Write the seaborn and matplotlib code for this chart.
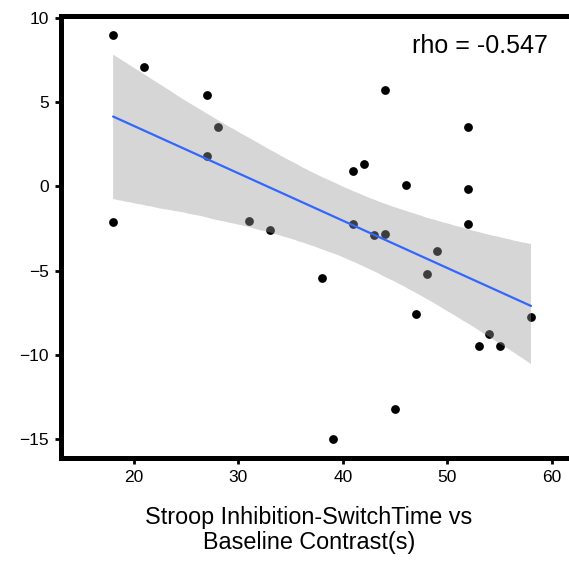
import matplotlib

matplotlib.use("Agg")
import matplotlib.pyplot as plt
import pandas as pd
import seaborn as sns
from matplotlib.collections import PolyCollection

# values
switch_time = [18, 21, 27, 28, 27, 18, 31, 33, 38, 39, 41, 41, 42, 43,
               44, 44, 45, 46, 47, 48, 49, 52, 52, 52, 53, 54, 55, 58]
contrast = [9.0, 7.1, 5.4, 3.5, 1.8, -2.1, -2.05, -2.6, -5.45, -15.0, 0.9, -2.2, 1.35, -2.9,
            -2.8, 5.7, -13.2, 0.1, -7.55, -5.2, -3.8, 3.55, -0.15, -2.2, -9.45, -8.75, -9.45, -7.75]
rho_label = "rho = -0.547"
x_ticks = [20, 30, 40, 50, 60]
y_ticks = [-15, -10, -5, 0, 5, 10]

df = pd.DataFrame({"x": switch_time, "y": contrast})

sns.set_style("ticks")
plt.rcParams["font.family"] = ["Liberation Sans", "DejaVu Sans"]

fig = plt.figure(figsize=(5.69, 5.62), dpi=100)
ax = fig.add_axes([0.107, 0.185, 0.918, 0.7865])

sns.scatterplot(data=df, x="x", y="y", color="black", s=40, linewidth=0, zorder=1, ax=ax)
sns.regplot(data=df, x="x", y="y", scatter=False, color="#3366FF", ci=97, n_boot=10000,
            seed=1, line_kws={"linewidth": 1.6, "zorder": 3}, ax=ax)
for coll in ax.collections:
    if isinstance(coll, PolyCollection):
        coll.set_facecolor("#999999")
        coll.set_alpha(0.4)
        coll.set_edgecolor("none")
        coll.set_zorder(2)

ax.text(59.6, 7.9, rho_label, ha="right", va="baseline", fontsize=18, color="black")

ax.set_xlim(13, 63)
ax.set_ylim(-16.1, 10.1)
ax.set_xticks(x_ticks)
ax.set_yticks(y_ticks)
ax.set_ylabel("")
ax.set_xlabel("Stroop Inhibition-SwitchTime vs\nBaseline Contrast(s)", fontsize=16.8,
              linespacing=1.1, color="black")
ax.xaxis.set_label_coords(0.475, -0.108, transform=ax.transAxes)
ax.xaxis.label.set_va("top")

for side in ["left", "bottom", "top"]:
    ax.spines[side].set_linewidth(3.6)
    ax.spines[side].set_color("black")
ax.spines["right"].set_visible(False)
ax.tick_params(axis="both", length=4.5, width=2, color="black", labelsize=12.5,
               labelcolor="black", pad=4)

fig.savefig("out.png", dpi=100)
